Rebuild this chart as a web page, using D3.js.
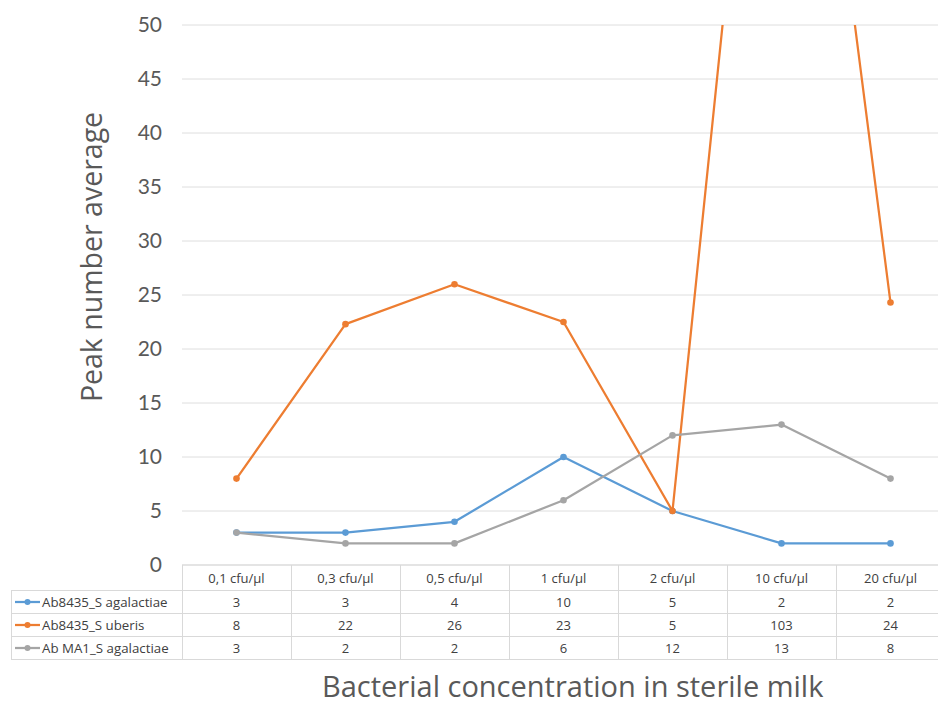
<!DOCTYPE html>
<html>
<head>
<meta charset="utf-8">
<script src="https://cdn.jsdelivr.net/npm/d3@7"></script>
<style>
  html, body { margin: 0; padding: 0; background: #fff; }
  svg { display: block; font-family: "Open Sans", Lato, sans-serif; }
</style>
</head>
<body>
<svg id="chart" width="938" height="707"></svg>
<script>
// Concentrations tested (x categories)
const categories = ["0,1 cfu/µl", "0,3 cfu/µl", "0,5 cfu/µl", "1 cfu/µl", "2 cfu/µl", "10 cfu/µl", "20 cfu/µl"];

// Series names and their average peak counts
const seriesNames = ["Ab8435_S agalactiae", "Ab8435_S uberis", "Ab MA1_S agalactiae"];
const agalactiae8435 = [3, 3, 4, 10, 5, 2, 2];
const uberis8435 = [8, 22.3, 26, 22.5, 5, 103, 24.3];
const agalactiaeMA1 = [3, 2, 2, 6, 12, 13, 8];

// Y axis ticks
const yTicks = [0, 5, 10, 15, 20, 25, 30, 35, 40, 45, 50];

const seriesColors = ["#5B9BD5", "#ED7D31", "#A5A5A5"];
const seriesValues = [agalactiae8435, uberis8435, agalactiaeMA1];

const svg = d3.select("#chart");
const W = 938;

const plot = { left: 182, right: 945, top: 25, bottom: 565 };
const x = d3.scaleBand().domain(categories).range([plot.left, plot.right]);
const y = d3.scaleLinear().domain([0, 50]).range([plot.bottom, plot.top]);

// Horizontal gridlines
svg.append("g")
  .selectAll("line")
  .data(yTicks)
  .join("line")
  .attr("x1", plot.left).attr("x2", W)
  .attr("y1", d => y(d)).attr("y2", d => y(d))
  .attr("stroke", "#dedede").attr("stroke-width", 1);

// Y axis labels
const yAxis = svg.append("g")
  .attr("transform", `translate(${plot.left},0)`)
  .call(d3.axisLeft(y).tickValues(yTicks).tickSize(0).tickPadding(20));
yAxis.select(".domain").remove();
yAxis.selectAll("text")
  .attr("font-family", "Lato, sans-serif")
  .attr("font-size", 21)
  .attr("fill", "#595959");

// Y axis title
svg.append("text")
  .attr("transform", "translate(102,257) rotate(-90)")
  .attr("text-anchor", "middle")
  .attr("font-size", 28.5)
  .attr("fill", "#595959")
  .text("Peak number average");

// Lines clipped to the plotting area
svg.append("clipPath").attr("id", "plotClip")
  .append("rect")
  .attr("x", plot.left).attr("y", plot.top)
  .attr("width", plot.right - plot.left).attr("height", plot.bottom - plot.top);

const cx = d => x(d) + x.bandwidth() / 2;
const line = d3.line()
  .x((d, i) => cx(categories[i]))
  .y(d => y(d));

const marks = svg.append("g").attr("clip-path", "url(#plotClip)");
seriesValues.forEach((vals, s) => {
  const g = marks.append("g");
  g.append("path")
    .datum(vals)
    .attr("d", line)
    .attr("fill", "none")
    .attr("stroke", seriesColors[s])
    .attr("stroke-width", 2.25)
    .attr("stroke-linejoin", "round");
  g.selectAll("circle")
    .data(vals)
    .join("circle")
    .attr("cx", (d, i) => cx(categories[i]))
    .attr("cy", d => y(d))
    .attr("r", 3.3)
    .attr("fill", seriesColors[s]);
});

// Data table under the plot
const table = svg.append("g");
const headerTop = 565;
const rowTops = [590, 613, 636];
const tableBottom = 659;
const legendLeft = 11;
const gridColor = "#d9d9d9";
const fmt = d3.format(".0f");

// Horizontal rules
table.append("line").attr("x1", plot.left).attr("x2", W)
  .attr("y1", headerTop).attr("y2", headerTop).attr("stroke", gridColor);
[...rowTops, tableBottom].forEach(yy => {
  table.append("line").attr("x1", legendLeft).attr("x2", W)
    .attr("y1", yy + 0.5).attr("y2", yy + 0.5).attr("stroke", gridColor);
});
// Vertical rules
table.append("line").attr("x1", legendLeft + 0.5).attr("x2", legendLeft + 0.5)
  .attr("y1", rowTops[0]).attr("y2", tableBottom).attr("stroke", gridColor);
categories.forEach(c => {
  table.append("line").attr("x1", x(c) + 0.5).attr("x2", x(c) + 0.5)
    .attr("y1", headerTop).attr("y2", tableBottom).attr("stroke", gridColor);
});

// Column headers
table.selectAll("text.hdr")
  .data(categories)
  .join("text")
  .attr("class", "hdr")
  .attr("x", d => cx(d))
  .attr("y", 578)
  .attr("dy", "0.35em")
  .attr("text-anchor", "middle")
  .attr("font-size", 13)
  .attr("fill", "#404040")
  .text(d => d);

// Legend keys and values per row
seriesValues.forEach((vals, s) => {
  const top = rowTops[s];
  const nextTop = s < 2 ? rowTops[s + 1] : tableBottom;
  const mid = (top + nextTop) / 2 + 0.5;
  table.append("line")
    .attr("x1", 15).attr("x2", 40)
    .attr("y1", mid).attr("y2", mid)
    .attr("stroke", seriesColors[s]).attr("stroke-width", 2.25);
  table.append("circle")
    .attr("cx", 27.5).attr("cy", mid).attr("r", 3)
    .attr("fill", seriesColors[s]);
  table.append("text")
    .attr("x", 42).attr("y", mid)
    .attr("dy", "0.35em")
    .attr("font-size", 13.3)
    .attr("fill", "#404040")
    .text(seriesNames[s]);
  table.append("g").selectAll("text")
    .data(vals)
    .join("text")
    .attr("x", (d, i) => cx(categories[i]))
    .attr("y", mid)
    .attr("dy", "0.35em")
    .attr("text-anchor", "middle")
    .attr("font-size", 13)
    .attr("fill", "#404040")
    .text(d => fmt(d));
});

// X axis title
svg.append("text")
  .attr("x", 322)
  .attr("y", 697)
  .attr("text-anchor", "start")
  .attr("font-size", 29)
  .attr("fill", "#595959")
  .text("Bacterial concentration in sterile milk");
</script>
</body>
</html>
